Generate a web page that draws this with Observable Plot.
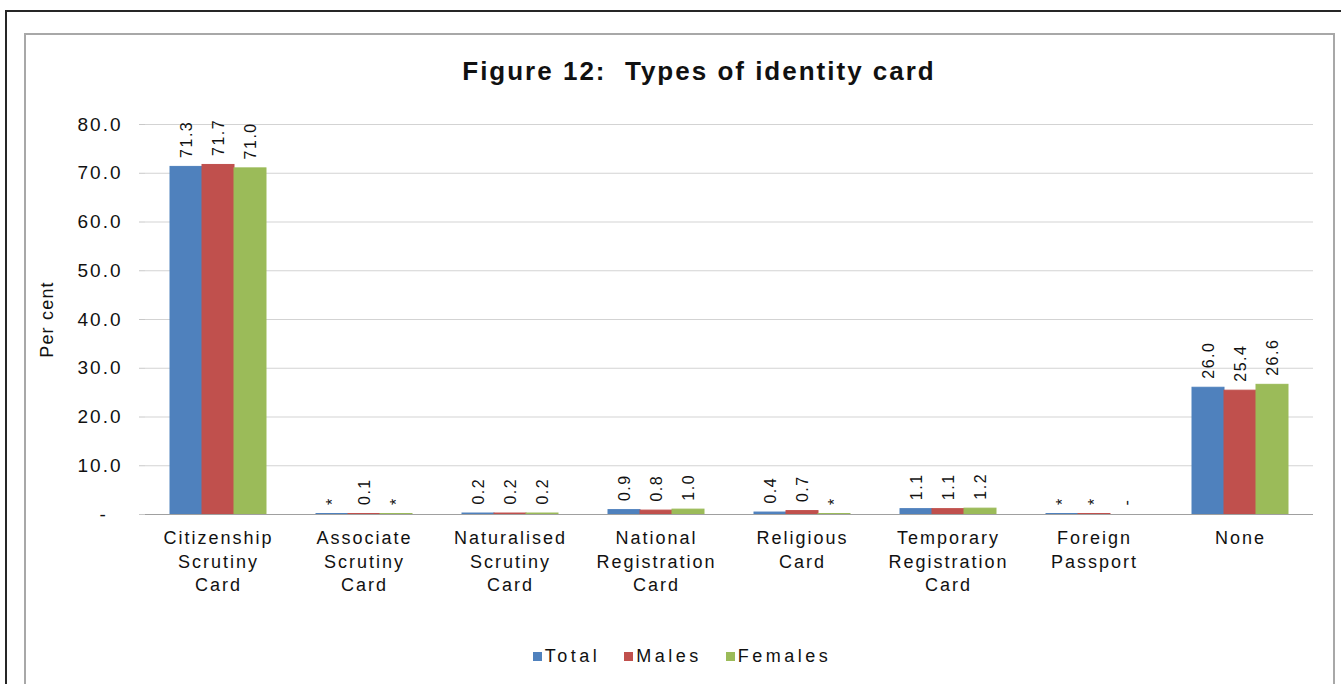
<!DOCTYPE html>
<html><head><meta charset="utf-8">
<script src="https://cdn.jsdelivr.net/npm/d3@7"></script>
<script src="https://cdn.jsdelivr.net/npm/@observablehq/plot@0.6"></script>
<style>
body{margin:0;background:#fff;font-family:"Liberation Sans",Arial,sans-serif;color:#111;}
#page{position:relative;width:1341px;height:684px;overflow:hidden;}
#outer{position:absolute;left:5px;top:10px;width:1400px;height:720px;border-left:2px solid #262626;border-top:2px solid #262626;}
#inner{position:absolute;left:24px;top:33px;width:1307px;height:720px;border:2px solid #a8a8a8;}
#chart{position:absolute;left:0;top:0;}
#title{position:absolute;top:56px;left:0;width:1398px;text-align:center;font-weight:bold;font-size:26px;letter-spacing:2px;white-space:pre;}
#legend{position:absolute;top:646px;left:0;width:1364px;text-align:center;font-size:18px;letter-spacing:3.5px;}
#legend span.item{display:inline-block;margin:0 12px;}
#legend span.sw{display:inline-block;width:9px;height:9px;margin-right:3px;vertical-align:1px;}
g[aria-label="y-axis tick label"] text{letter-spacing:2px;}
g[aria-description="category-labels"] text{letter-spacing:2px;}
g[aria-description="value-labels"] text{letter-spacing:1.5px;}
g[aria-description="y-title"] text{letter-spacing:1.2px;}
</style>
</head>
<body>
<div id="page">
  <div id="outer"></div>
  <div id="inner"></div>
  <div id="chart"></div>
  <div id="title">Figure 12:  Types of identity card</div>
  <div id="legend"></div>
</div>
<script>
const categories = [
  "Citizenship\nScrutiny\nCard",
  "Associate\nScrutiny\nCard",
  "Naturalised\nScrutiny\nCard",
  "National\nRegistration\nCard",
  "Religious\nCard",
  "Temporary\nRegistration\nCard",
  "Foreign\nPassport",
  "None"
];
const series = ["Total", "Males", "Females"];
const colors = ["#4F81BD", "#C0504D", "#9BBB59"];
const totalValues  = [71.3, 0.1, 0.2, 0.9, 0.4, 1.1, 0.1, 26.0];
const maleValues   = [71.7, 0.1, 0.2, 0.8, 0.7, 1.1, 0.1, 25.4];
const femaleValues = [71.0, 0.1, 0.2, 1.0, 0.1, 1.2, 0.0, 26.6];
const totalLabels  = ["71.3", "*", "0.2", "0.9", "0.4", "1.1", "*", "26.0"];
const maleLabels   = ["71.7", "0.1", "0.2", "0.8", "0.7", "1.1", "*", "25.4"];
const femaleLabels = ["71.0", "*", "0.2", "1.0", "*", "1.2", "-", "26.6"];
const yTicks = [0, 10, 20, 30, 40, 50, 60, 70, 80];
const yTitle = "Per cent";

const valuesBySeries = [totalValues, maleValues, femaleValues];
const labelsBySeries = [totalLabels, maleLabels, femaleLabels];
const rows = categories.flatMap((c, i) => series.map((s, j) => ({
  category: c, series: s, value: valuesBySeries[j][i], label: labelsBySeries[j][i]
})));

const chart = Plot.plot({
  width: 1341,
  height: 684,
  marginLeft: 143,
  marginRight: 26,
  marginTop: 124,
  marginBottom: 170,
  style: {background: "transparent", fontFamily: "'Liberation Sans', Arial, sans-serif", color: "#111"},
  fx: {domain: categories, padding: 0, axis: null},
  x: {domain: series, paddingInner: 0, paddingOuter: 0.72, axis: null},
  y: {domain: [0, 80]},
  color: {domain: series, range: colors},
  marks: [
    Plot.ruleY(yTicks.filter(d => d > 0), {stroke: "#d3d3d3"}),
    Plot.axisY(yTicks, {
      tickSize: 6, tickPadding: 17, fontSize: 19, stroke: "#c8c8c8", fill: "#111",
      line: true,
      tickFormat: d => d === 0 ? "-\u00a0\u00a0" : d.toFixed(1),
      label: null
    }),
    Plot.text([yTitle], {
      fx: () => categories[0], text: d => d, frameAnchor: "left", textAnchor: "middle",
      rotate: -90, dx: -98, fontSize: 18, fill: "#111", ariaDescription: "y-title"
    }),
    Plot.barY(rows, {fx: "category", x: "series", y: "value", fill: "series", stroke: "series", strokeWidth: 1}),
    Plot.ruleY([0], {stroke: "#a0a0a0"}),
    Plot.text(rows, {
      fx: "category", x: "series", y: "value", text: "label",
      rotate: -90, textAnchor: "start", dy: -9, fontSize: 16, fill: "#111",
      ariaDescription: "value-labels"
    }),
    Plot.text(categories, {
      fx: d => d, text: d => d, frameAnchor: "bottom", lineAnchor: "top",
      dy: 13, fontSize: 18, lineHeight: 1.3, fill: "#111",
      ariaDescription: "category-labels"
    })
  ]
});
document.getElementById("chart").appendChild(chart);

const legend = document.getElementById("legend");
series.forEach((s, i) => {
  const item = document.createElement("span");
  item.className = "item";
  const sw = document.createElement("span");
  sw.className = "sw";
  sw.style.background = colors[i];
  item.appendChild(sw);
  item.appendChild(document.createTextNode(s));
  legend.appendChild(item);
});
</script>
</body></html>
